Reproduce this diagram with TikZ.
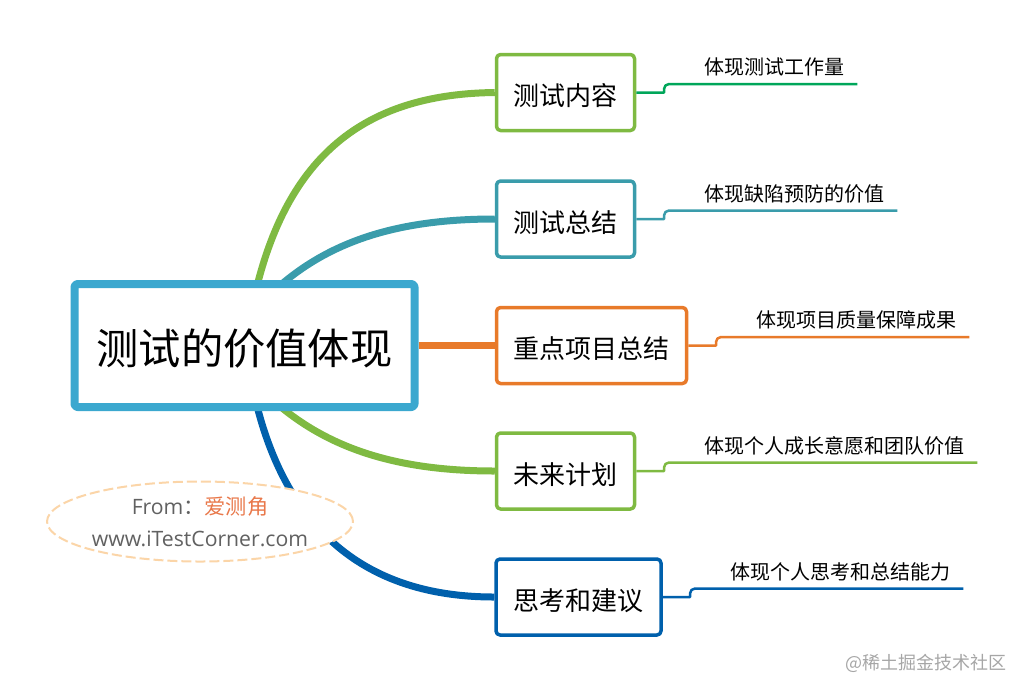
\documentclass[tikz,border=0pt]{standalone}
\usepackage{fontspec}
\setmainfont{Open Sans}
\newfontfamily\cjk{Noto Sans CJK SC}
\usetikzlibrary{shapes.geometric,backgrounds}
\definecolor{rootblue}{HTML}{3BA8CF}
\definecolor{lime}{HTML}{7FBA42}
\definecolor{emerald}{HTML}{00A65A}
\definecolor{sea}{HTML}{3A9CAB}
\definecolor{tangerine}{HTML}{E87A2A}
\definecolor{deepblue}{HTML}{0060AC}
\definecolor{peach}{HTML}{FBD5A8}
\definecolor{coral}{HTML}{E9784A}
\tikzset{
  rootbox/.style={draw=rootblue,line width=8pt,rounded corners=3pt,fill=white,minimum width=340pt,minimum height=123pt,inner sep=0pt,text height=38pt,text depth=0pt,font=\cjk\fontsize{42.3}{50}\selectfont},
  childbox/.style={line width=3.5pt,rounded corners=4pt,fill=white,minimum height=76pt,inner sep=0pt,text height=26pt,text depth=0pt,font=\cjk\fontsize{26}{32}\selectfont},
  leaftext/.style={anchor=south west,inner xsep=0pt,inner ysep=7.5pt,font=\cjk\fontsize{20}{24}\selectfont,execute at begin node=\hspace*{40pt},execute at end node=\hspace*{13pt}},
  branch/.style={line width=7pt}
}
\begin{document}
\begin{tikzpicture}[line join=round,x=1pt,y=-1pt]
\useasboundingbox (0,0) rectangle (1027,694);
\node[rootbox] (root) at (244.5,345.5) {测试的价值体现};
\foreach \n/\x/\y/\w/\lx/\c/\lc/\t/\l in {
  content/565.5/92.5/138/664/lime/emerald/测试内容/体现测试工作量,
  summary/565.5/219/138/664/sea/sea/测试总结/体现缺陷预防的价值,
  project/591.5/345.5/190/716/tangerine/tangerine/重点项目总结/体现项目质量保障成果,
  plan/565.5/471/138/664/lime/lime/未来计划/体现个人成长意愿和团队价值,
  advice/578.5/597/165/690/deepblue/deepblue/思考和建议/体现个人思考和总结能力}
{
  \node[childbox,draw=\c,minimum width=\w pt] (\n) at (\x,\y) {\t};
  \node[leaftext] (\n leaf) at (\lx,\y-8.5) {\l};
  \draw[\lc,line width=2.5pt] (\n.east) -- (\n.east -| \n leaf.south west) [rounded corners=5pt] -- (\n leaf.south west) -- (\n leaf.south east);
}
\coordinate (rootgreen) at (256,290);
\coordinate (rootsea) at (275,290);
\coordinate (rootlime) at (275,402);
\coordinate (rootblue) at (256,402);
\begin{scope}[on background layer]
\draw[branch,lime] (rootgreen) .. controls (290,150) and (370,94) .. (content.west);
\draw[branch,sea] (rootsea) .. controls (330,240) and (400,219) .. (summary.west);
\draw[branch,tangerine] (root.east) -- (project.west);
\draw[branch,lime] (rootlime) .. controls (330,450) and (400,471) .. (plan.west);
\draw[branch,deepblue] (rootblue) .. controls (280,500) and (340,597) .. (advice.west);
\end{scope}
\node[ellipse,draw=peach,line width=2pt,dash pattern=on 10pt off 4pt,fill=white,minimum width=306pt,minimum height=80pt,inner sep=0pt,align=center,text=black!62,font=\fontsize{21.2}{32}\selectfont] (source) at (200,521.5) {From{\cjk ：}{\cjk\color{coral}爱测角}\\www.iTestCorner.com};
\node[anchor=east,inner sep=0pt,text=black!35,font=\cjk\fontsize{18}{20}\selectfont] (mark) at (1007,663) {@稀土掘金技术社区};
\end{tikzpicture}
\end{document}
